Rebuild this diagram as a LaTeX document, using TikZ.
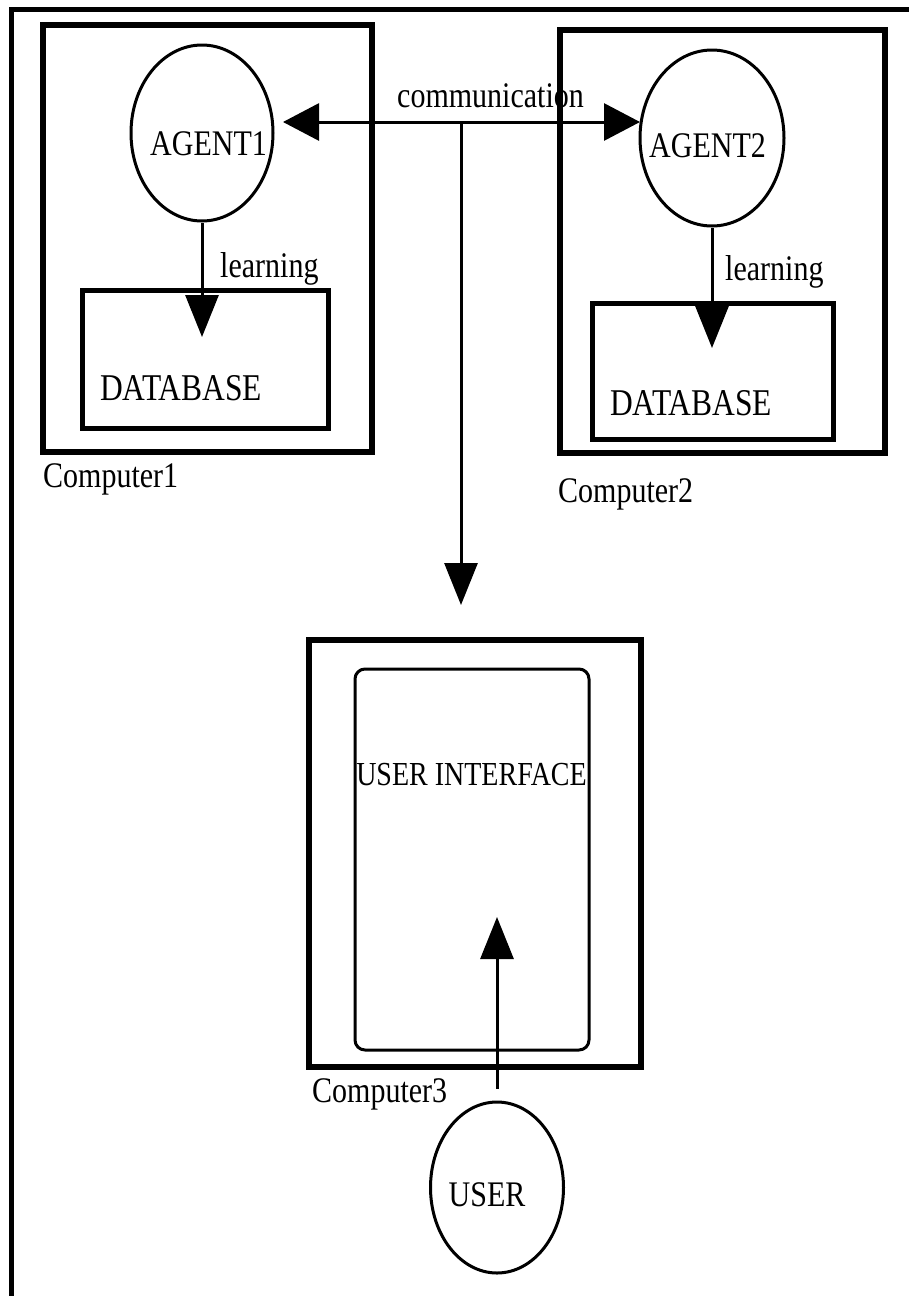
\documentclass[tikz,border=0pt]{standalone}
\usepackage{fontspec}
\setmainfont{Liberation Serif}
\usepackage{graphicx}
\usetikzlibrary{shapes.geometric,arrows.meta}
\newcommand\tall[1]{\scalebox{1}[1.2]{#1}}
\tikzset{
  lbl/.style={inner sep=0pt,font=\fontsize{30}{36}\selectfont},
  compbox/.style={draw,line width=5.5pt},
  dbbox/.style={draw,line width=5pt},
  agentell/.style={draw,ellipse,line width=3pt,inner sep=0pt,minimum width=142pt,minimum height=176pt},
  arr/.style={line width=3pt,-{Triangle[length=42pt,width=33pt]}},
  darr/.style={line width=3pt,{Triangle[length=36pt,width=37pt]}-{Triangle[length=36pt,width=37pt]}}
}
\begin{document}
\begin{tikzpicture}[x=1pt,y=-1pt]
\useasboundingbox (0,0) rectangle (909,1296);
\clip (0,0) rectangle (909,1296);
\fill[white] (0,0) rectangle (909,1296);
% outer frame (cropped at right and bottom)
\draw[line width=5pt] (11,1310) -- (11,9) -- (920,9);

% Computer1
\node[compbox,minimum width=329pt,minimum height=427pt,inner sep=0pt] (comp1) at (207.5,238.5) {};
\node[dbbox,minimum width=246pt,minimum height=138pt,inner sep=0pt] (db1) at (205,359) {};
\node[agentell] (agent1) at (202,133) {};
\node[lbl,anchor=base west] (agent1t) at (150,155) {\tall{AGENT1}};
\node[lbl,anchor=base west] (db1t) at (100,400) {\tall{\fontsize{31.5}{36}\selectfont DATABASE}};
\node[lbl,anchor=base west] (learn1) at (220,277) {\tall{learning}};
\node[lbl,anchor=base west] (comp1t) at (43,487) {\tall{Computer1}};
\coordinate (tip1) at (202,337);
\draw[arr] (agent1.south) -- (tip1);

% Computer2
\node[lbl,anchor=base west] (comm) at (397,107) {\tall{communication}};
\node[compbox,line width=6.5pt,minimum width=325pt,minimum height=423pt,inner sep=0pt] (comp2) at (722.5,241.5) {};
\node[dbbox,minimum width=241pt,minimum height=136pt,inner sep=0pt] (db2) at (712.5,371) {};
\node[agentell,minimum width=144pt] (agent2) at (712,138) {};
\node[lbl,anchor=base west] (agent2t) at (649,157) {\tall{AGENT2}};
\node[lbl,anchor=base west] (db2t) at (610,415) {\tall{\fontsize{31.5}{36}\selectfont DATABASE}};
\node[lbl,anchor=base west] (learn2) at (725,280) {\tall{learning}};
\node[lbl,anchor=base west] (comp2t) at (558,502) {\tall{Computer2}};
\coordinate (tip2) at (712,348);
\draw[arr] (agent2.south) -- (tip2);

% communication
\coordinate (cl) at (283,122);
\coordinate (cr) at (640,122);
\coordinate (jn) at (461,122);
\coordinate (tip3) at (461,605);
\draw[darr] (cl) -- (cr);
\draw[arr] (jn) -- (tip3);

% Computer3
\node[compbox,line width=6.5pt,minimum width=332pt,minimum height=427pt,inner sep=0pt] (comp3) at (475,853.5) {};
\node[draw,line width=3pt,rounded corners=10pt,minimum width=234pt,minimum height=381pt,inner sep=0pt] (ui) at (472,859.5) {};
\node[lbl] (uit) at (471.5,775) {\tall{\fontsize{28}{34}\selectfont USER INTERFACE}};
\node[lbl,anchor=base west] (comp3t) at (312,1102) {\tall{Computer3}};
\node[draw,ellipse,line width=3pt,inner sep=0pt,minimum width=133pt,minimum height=171pt] (user) at (497,1187.5) {};
\node[lbl] (usert) at (487,1195) {\tall{USER}};
\coordinate (tip4) at (497,917);
\draw[arr,shorten <=12pt] (user.north) -- (tip4);
\end{tikzpicture}
\end{document}
